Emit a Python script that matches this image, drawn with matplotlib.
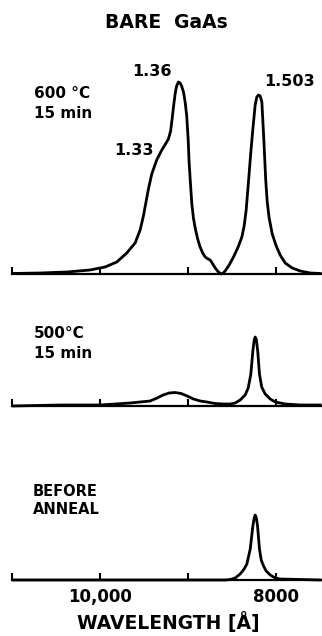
import matplotlib.pyplot as plt

plt.rcParams['font.family'] = 'DejaVu Sans'
plt.rcParams['font.weight'] = 'bold'

# photoluminescence spectra, wavelength in angstrom, intensity in arbitrary units
wl_600 = [11000, 10682, 10375, 10114, 9943, 9810, 9697, 9602, 9545, 9508,
          9489, 9451, 9413, 9357, 9299, 9250, 9224, 9199, 9182, 9165,
          9148, 9131, 9110, 9091, 9074, 9053, 9034, 9016, 9000, 8989,
          8977, 8958, 8940, 8920, 8892, 8864, 8835, 8807, 8773, 8750,
          8727, 8693, 8656, 8625, 8602, 8580, 8534, 8485, 8432, 8390,
          8364, 8341, 8315, 8290, 8265, 8239, 8220, 8201, 8182, 8163,
          8142, 8119, 8102, 8080, 8045, 8000, 7955, 7898, 7818, 7727,
          7614, 7500]
pl_600 = [0.5, 1, 2, 4, 7, 12, 21, 31, 44, 58,
          67, 85, 100, 114, 124, 131, 135, 143, 155, 168,
          180, 188, 192, 191, 188, 182, 172, 158, 135, 112,
          95, 70, 56, 46, 35, 27, 21, 17, 15, 14,
          11, 6, 2, 0, 1, 3, 9, 17, 27, 37,
          48, 64, 92, 120, 145, 169, 177, 179, 178, 172,
          137, 94, 72, 56, 40, 28, 19, 11, 6, 3,
          1, 0.5]

wl_500 = [11000, 10455, 10000, 9659, 9545, 9432, 9352, 9284, 9216, 9148,
          9080, 9011, 8940, 8864, 8787, 8693, 8602, 8523, 8466, 8409,
          8352, 8318, 8288, 8265, 8250, 8239, 8225, 8210, 8190, 8165,
          8125, 8068, 8011, 7898, 7727, 7500]
pl_500 = [0, 1, 1, 3, 4, 5, 8, 11, 13, 13.5,
          12.5, 10, 7, 5, 4, 2.5, 2, 2, 3, 6,
          11, 18, 32, 55, 66, 69, 66, 55, 32, 19,
          12, 7, 4, 2, 1, 1]

wl_before = [11000, 10000, 8864, 8580, 8523, 8466, 8409, 8364, 8333, 8295,
             8265, 8250, 8239, 8225, 8212, 8190, 8170, 8144, 8114, 8068,
             8011, 7955, 7500]
pl_before = [0, 0, 0, 0, 0.5, 2, 6, 11, 16, 31,
             54, 62, 65, 62, 54, 31, 20, 14, 9, 5,
             2, 1, 0]

tick_pos = [11000, 10000, 9000, 8000]
tick_text = ['', '10,000', '', '8000']

W, H = 322, 636
fig = plt.figure(figsize=(W / 100, H / 100), dpi=100)


def px(x, y):
    # pixel position (from top-left) -> figure fraction
    return x / W, 1 - y / H


def panel(base_y, top, wl, pl):
    height = top + 2
    ax = fig.add_axes([12 / W, (H - base_y - 2) / H, 310 / W, height / H])
    ax.plot(wl, pl, color='black', lw=2.0, solid_joinstyle='round')
    ax.set_xlim(11000, 7480)
    ax.set_ylim(-2, top)
    for s in ['left', 'right', 'top']:
        ax.spines[s].set_visible(False)
    ax.spines['bottom'].set_position(('data', 0))
    ax.spines['bottom'].set_linewidth(1.6)
    ax.set_yticks([])
    ax.set_xticks(tick_pos)
    ax.tick_params(axis='x', direction='in', length=5, width=1.5, pad=6,
                   labelsize=12)
    ax.set_xticklabels([])
    return ax


ax1 = panel(274, 200, wl_600, pl_600)
ax2 = panel(406, 80, wl_500, pl_500)
ax3 = panel(580, 80, wl_before, pl_before)
ax3.set_xticklabels(tick_text)

fig.text(*px(166, 22), 'BARE  GaAs', ha='center', va='center', fontsize=13.5)

fig.text(*px(34, 93), '600 °C', ha='left', va='center', fontsize=11)
fig.text(*px(34, 113), '15 min', ha='left', va='center', fontsize=11)
fig.text(*px(152, 72), '1.36', ha='center', va='center', fontsize=11.5)
fig.text(*px(289, 81), '1.503', ha='center', va='center', fontsize=11.5)
fig.text(*px(134, 150), '1.33', ha='center', va='center', fontsize=11.5)

fig.text(*px(34, 334), '500°C', ha='left', va='center', fontsize=11)
fig.text(*px(34, 354), '15 min', ha='left', va='center', fontsize=11)

fig.text(*px(33, 491), 'BEFORE', ha='left', va='center', fontsize=10.5)
fig.text(*px(33, 509), 'ANNEAL', ha='left', va='center', fontsize=10.5)

fig.text(*px(168, 623), 'WAVELENGTH [Å]', ha='center', va='center',
         fontsize=13.5)

fig.savefig('out.png', dpi=100)
